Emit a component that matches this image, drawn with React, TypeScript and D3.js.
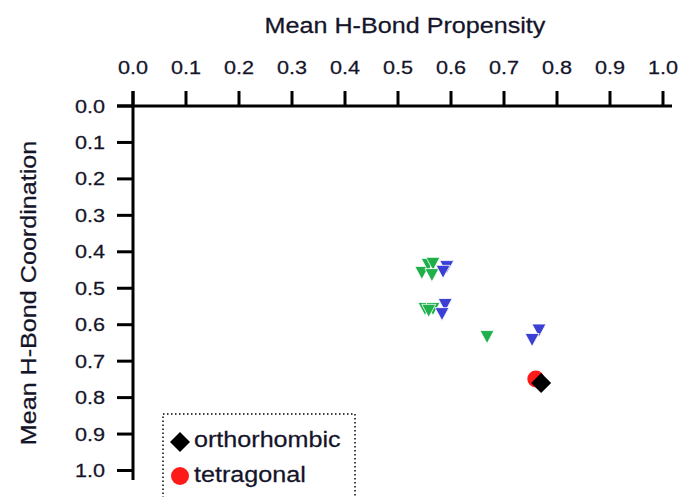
import React from "react";
import * as d3 from "d3";

const xTicks = [0, 0.1, 0.2, 0.3, 0.4, 0.5, 0.6, 0.7, 0.8, 0.9, 1.0];
const yTicks = [0, 0.1, 0.2, 0.3, 0.4, 0.5, 0.6, 0.7, 0.8, 0.9, 1.0];

// green down-triangles
const greenX = [0.545, 0.557, 0.566, 0.564, 0.551, 0.566, 0.558, 0.668];
const greenY = [0.458, 0.436, 0.433, 0.464, 0.557, 0.557, 0.562, 0.634];
// blue down-triangles
const blueX = [0.592, 0.585, 0.589, 0.583, 0.766, 0.753];
const blueY = [0.442, 0.455, 0.546, 0.571, 0.616, 0.642];
// tetragonal (red circle)
const tetraX = [0.76];
const tetraY = [0.749];
// orthorhombic (black diamond)
const orthoX = [0.77];
const orthoY = [0.76];

const legendLabels = ["orthorhombic", "tetragonal"];

const TXT = "#14142a";
const FONT = "'Liberation Sans', Arial, sans-serif";

function T({ x, y, size, anchor = "start", rotate = 0, sx = 1.17, children }: any) {
  return (
    <text
      transform={`translate(${x},${y}) rotate(${rotate}) scale(${sx},1)`}
      fontSize={size}
      fontFamily={FONT}
      fill={TXT}
      stroke={TXT}
      strokeWidth={0.25}
      textAnchor={anchor}
    >
      {children}
    </text>
  );
}

export default function App() {
  const W = 681;
  const H = 497;
  const x = d3.scaleLinear().domain([0, 1]).range([133, 663]);
  const y = d3.scaleLinear().domain([0, 1]).range([106, 470.5]);
  const tri = "M-7,-6.5L7,-6.5L0,6.5Z";
  const diamond = (r: number) => `M0,${-r}L${r},0L0,${r}L${-r},0Z`;

  return (
    <svg
      width={W}
      height={H}
      style={{ position: "absolute", left: 0, top: 0, background: "#fff" }}
    >
      <rect width={W} height={H} fill="#fff" />
      {/* axes */}
      <line x1={117} x2={672} y1={y(0)} y2={y(0)} stroke="#000" strokeWidth={3} />
      <line x1={x(0)} x2={x(0)} y1={91} y2={480} stroke="#000" strokeWidth={3} />
      {xTicks.map((t) => (
        <g key={"xt" + t}>
          <line x1={x(t)} x2={x(t)} y1={y(0)} y2={91} stroke="#000" strokeWidth={3} />
          <T x={x(t)} y={74} size={18.5} anchor="middle">
            {t.toFixed(1)}
          </T>
        </g>
      ))}
      {yTicks.map((t) => (
        <g key={"yt" + t}>
          <line x1={117} x2={x(0)} y1={y(t)} y2={y(t)} stroke="#000" strokeWidth={3} />
          <T x={105} y={y(t) + 6.5} size={18.5} anchor="end">
            {t.toFixed(1)}
          </T>
        </g>
      ))}
      <T x={405} y={33} size={21.5} anchor="middle">
        Mean H-Bond Propensity
      </T>
      <T x={36} y={293} size={21.5} anchor="middle" rotate={-90}>
        Mean H-Bond Coordination
      </T>

      {/* data */}
      {greenX.map((v, i) => (
        <path
          key={"g" + i}
          d={tri}
          transform={`translate(${x(v)},${y(greenY[i])})`}
          fill="#1fb04b"
          stroke="#fff"
          strokeWidth={0.8}
        />
      ))}
      {blueX.map((v, i) => (
        <path
          key={"b" + i}
          d={tri}
          transform={`translate(${x(v)},${y(blueY[i])})`}
          fill="#3b3fd4"
          stroke="#fff"
          strokeWidth={0.8}
        />
      ))}
      {tetraX.map((v, i) => (
        <circle key={"t" + i} cx={x(v)} cy={y(tetraY[i])} r={8.5} fill="#ff1a1a" />
      ))}
      {orthoX.map((v, i) => (
        <path
          key={"o" + i}
          d={diamond(10)}
          transform={`translate(${x(v)},${y(orthoY[i])})`}
          fill="#000"
        />
      ))}

      {/* legend */}
      <rect
        x={163}
        y={414}
        width={192}
        height={100}
        fill="none"
        stroke="#000"
        strokeWidth={1.5}
        strokeDasharray="1.5,2.5"
      />
      <path d={diamond(10)} transform="translate(180,442)" fill="#000" />
      <circle cx={180} cy={476} r={9} fill="#ff1a1a" />
      <T x={194} y={447} size={21.5}>
        {legendLabels[0]}
      </T>
      <T x={194} y={482} size={21.5}>
        {legendLabels[1]}
      </T>
    </svg>
  );
}
